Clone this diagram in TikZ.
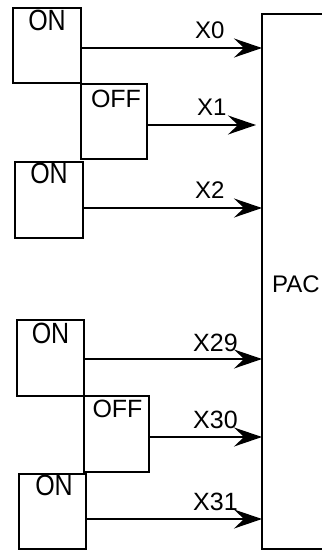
\documentclass[tikz,border=0pt]{standalone}
\usepackage{graphicx}
\usepackage{fontspec}
\setmainfont{Liberation Sans}
\usetikzlibrary{arrows.meta}
\begin{document}
\begin{tikzpicture}[x=1pt,y=-1pt,
  swbox/.style={draw, line width=2pt, rectangle, inner sep=0pt, anchor=north west},
  state/.style={inner sep=0pt, anchor=north, font=\fontsize{25}{25}\selectfont},
  sig/.style={inner sep=0pt, anchor=base west, font=\fontsize{24}{24}\selectfont},
  arr/.style={line width=2pt, -{Stealth[length=28pt,width=19pt,inset=10pt]}},
]
\useasboundingbox (0,0) rectangle (321,551);

% PAC block (right side runs past the picture edge)
\node[rectangle, inner sep=0pt, anchor=north west, minimum width=70pt, minimum height=535pt] (pac) at (262,14) {};
\draw[line width=2pt] (pac.north east) -- (pac.north west) -- (pac.south west) -- (pac.south east);
\node[inner sep=0pt, anchor=base west, font=\fontsize{24}{24}\selectfont] (pact) at (272,292) {PAC};

% switch boxes
\node[swbox, minimum width=68pt, minimum height=75pt] (s1) at (12,7) {};
\node[swbox, minimum width=66pt, minimum height=75pt] (s2) at (80,83) {};
\node[swbox, minimum width=68pt, minimum height=76pt] (s3) at (14,161) {};
\node[swbox, minimum width=67pt, minimum height=76pt] (s4) at (16,319) {};
\node[swbox, minimum width=65pt, minimum height=76pt] (s5) at (83,395) {};
\node[swbox, minimum width=67pt, minimum height=75pt] (s6) at (18,473) {};

% states
\node[state] (t1) at ([yshift=-3pt]s1.north) {\scalebox{1}[1.17]{ON}};
\node[state] (t2) at ([xshift=2pt,yshift=-7pt]s2.north) {OFF};
\node[state] (t3) at ([yshift=-2pt]s3.north) {\scalebox{1}[1.17]{ON}};
\node[state] (t4) at ([yshift=-4pt]s4.north) {\scalebox{1}[1.17]{ON}};
\node[state] (t5) at ([xshift=1pt,yshift=-5pt]s5.north) {OFF};
\node[state] (t6) at ([xshift=1.5pt,yshift=-2pt]s6.north) {\scalebox{1}[1.17]{ON}};

% rows
\coordinate (r0) at (0,48);
\coordinate (r1) at (0,125);
\coordinate (r2) at (0,208);
\coordinate (r29) at (0,359);
\coordinate (r30) at (0,437);
\coordinate (r31) at (0,519);

% arrows
\draw[arr] (s1.east |- r0) -- (pac.west |- r0);
\draw[arr, shorten >=6pt] (s2.east |- r1) -- (pac.west |- r1);
\draw[arr] (s3.east |- r2) -- (pac.west |- r2);
\draw[arr] (s4.east |- r29) -- (pac.west |- r29);
\draw[arr] (s5.east |- r30) -- (pac.west |- r30);
\draw[arr] (s6.east |- r31) -- (pac.west |- r31);

% signal labels
\node[sig] (x0) at (195,38) {X0};
\node[sig] (x1) at (197,115) {X1};
\node[sig] (x2) at (195,198) {X2};
\node[sig, font=\fontsize{25}{25}\selectfont] (x29) at (193,351) {X29};
\node[sig, font=\fontsize{25}{25}\selectfont] (x30) at (193,428) {X30};
\node[sig, font=\fontsize{25}{25}\selectfont] (x31) at (193,510) {X31};
\end{tikzpicture}
\end{document}
